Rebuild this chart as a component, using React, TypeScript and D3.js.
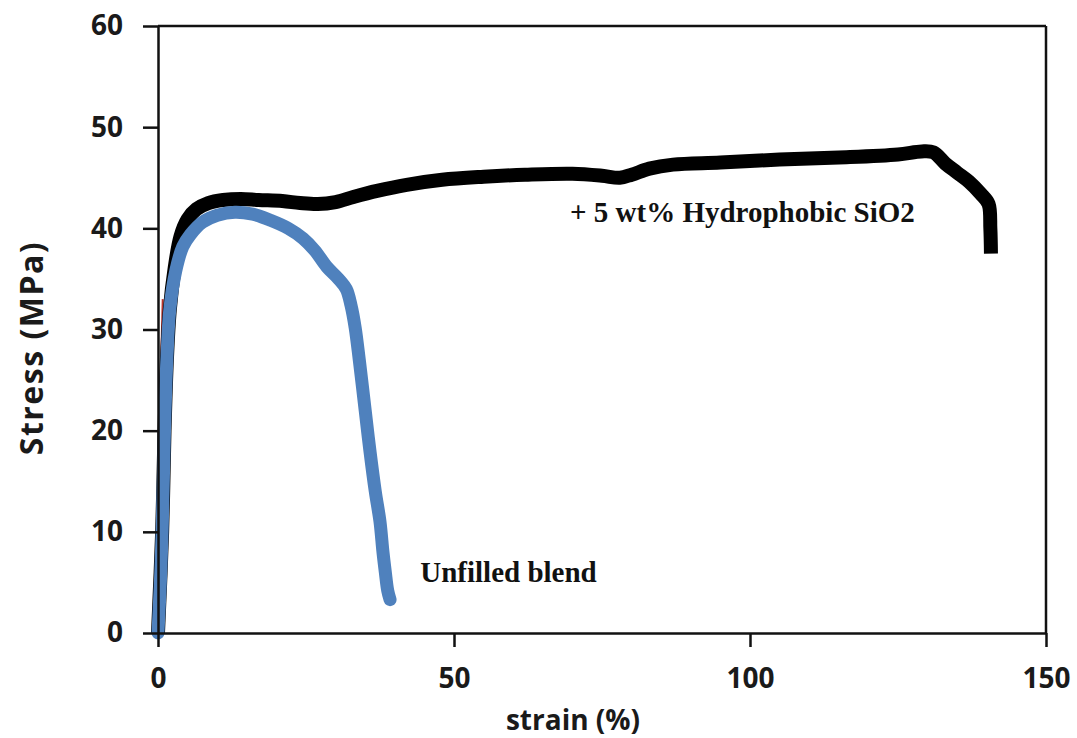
import { useEffect, useRef } from "react";
import * as d3 from "d3";

// tensile curves (strain %, stress MPa)
const strainSiO2 = [0, 0.7, 1.1, 1.5, 2.0, 2.8, 3.8, 5.0, 6.5, 8.5, 11, 14, 17, 21, 24, 27, 30, 33, 37, 42, 48, 55, 62, 70, 75, 78, 80, 83, 87, 95, 105, 115, 125, 129, 131, 133, 135, 137, 139, 140.3, 140.6, 140.7];
const stressSiO2 = [0, 10, 20, 27, 32, 36, 39.2, 40.9, 41.9, 42.5, 42.8, 42.9, 42.8, 42.7, 42.5, 42.4, 42.6, 43.1, 43.7, 44.3, 44.8, 45.1, 45.3, 45.4, 45.2, 45.0, 45.3, 45.9, 46.3, 46.5, 46.8, 47.0, 47.3, 47.6, 47.5, 46.4, 45.5, 44.6, 43.4, 42.4, 40, 37.5];

const strainBlend = [0, 0.4, 0.7, 1.1, 1.5, 2.0, 3.0, 4.2, 5.5, 7.5, 10, 13, 16, 19, 22, 24.5, 26.5, 28.5, 30.5, 31.8, 32.6, 33.3, 34, 35, 35.8, 36.7, 37.5, 38, 38.4, 38.8, 39.2];
const stressBlend = [0, 5, 10, 20, 27, 32, 35.8, 38.2, 39.4, 40.6, 41.3, 41.6, 41.4, 40.8, 40.0, 39.0, 37.8, 36.2, 35.0, 34.0, 32.4, 30.2, 27, 22, 18, 14, 11, 8, 6, 4.2, 3.3];

// faint red trace hugging the y axis in the original
const strainRed = [0, 0.15, 0.35, 0.8];
const stressRed = [0, 10, 22, 33];

const xTicks = [0, 50, 100, 150];
const yTicks = [0, 10, 20, 30, 40, 50, 60];

const labels = [
    { text: "+ 5 wt% Hydrophobic SiO2", strain: 69.6, stress: 40.6 },
    { text: "Unfilled blend", strain: 44.3, stress: 5.0 },
];

const W = 1077;
const H = 738;
const left = 158, right = 1046, top = 26, bottom = 633;

export default function App() {
    const xAxisRef = useRef<SVGGElement>(null);
    const yAxisRef = useRef<SVGGElement>(null);

    const x = d3.scaleLinear().domain([0, 150]).range([left, right]);
    const y = d3.scaleLinear().domain([0, 60]).range([bottom, top]);

    const line = d3
        .line<[number, number]>()
        .x((d) => x(d[0]))
        .y((d) => y(d[1]))
        .curve(d3.curveCatmullRom.alpha(0.5));

    const sio2 = line(strainSiO2.map((s, i) => [s, stressSiO2[i]]));
    const blend = line(strainBlend.map((s, i) => [s, stressBlend[i]]));
    const red = line(strainRed.map((s, i) => [s, stressRed[i]]));

    useEffect(() => {
        const xAxis = d3.axisBottom(x).tickValues(xTicks).tickSize(14).tickSizeOuter(0).tickPadding(21);
        const yAxis = d3.axisLeft(y).tickValues(yTicks).tickSize(15).tickSizeOuter(0).tickPadding(20);

        const gx = d3.select(xAxisRef.current).call(xAxis);
        const gy = d3.select(yAxisRef.current).call(yAxis);

        [gx, gy].forEach((g) => {
            g.attr("font-family", "'Open Sans', sans-serif").attr("font-size", 28).attr("font-weight", "bold");
            g.selectAll("path.domain").attr("stroke", "#111").attr("stroke-width", 2.5);
            g.selectAll(".tick line").attr("stroke", "#111").attr("stroke-width", 2.5);
            g.selectAll(".tick text").attr("fill", "#1a1a1a");
        });
    }, []);

    return (
        <svg width={W} height={H} style={{ position: "absolute", left: 0, top: 0, background: "#fff" }}>
            {/* frame: top and right */}
            <line x1={left} x2={right} y1={top} y2={top} stroke="#111" strokeWidth={2.5} />
            <line x1={right} x2={right} y1={top} y2={bottom} stroke="#111" strokeWidth={2.5} />

            <path d={red ?? ""} fill="none" stroke="#b8342c" strokeWidth={2} />
            <path d={sio2 ?? ""} fill="none" stroke="#000" strokeWidth={14} strokeLinejoin="round" strokeLinecap="butt" />
            <path d={blend ?? ""} fill="none" stroke="#4f81bd" strokeWidth={13} strokeLinejoin="round" strokeLinecap="round" />

            <g ref={xAxisRef} transform={`translate(0,${bottom})`} />
            <g ref={yAxisRef} transform={`translate(${left},0)`} />

            {labels.map((l) => (
                <text
                    key={l.text}
                    x={x(l.strain)}
                    y={y(l.stress)}
                    fontFamily="'Liberation Serif', 'Times New Roman', serif"
                    fontWeight="bold"
                    fontSize={29}
                    fill="#111"
                >
                    {l.text}
                </text>
            ))}

            <text
                x={573}
                y={730}
                textAnchor="middle"
                fontFamily="'Open Sans', sans-serif"
                fontWeight="bold"
                fontSize={28}
                fill="#1a1a1a"
            >
                strain (%)
            </text>
            <text
                transform={`translate(43,${348}) rotate(-90)`}
                textAnchor="middle"
                fontFamily="'Open Sans', sans-serif"
                fontWeight="bold"
                fontSize={32}
                letterSpacing={1.5}
                fill="#1a1a1a"
            >
                Stress (MPa)
            </text>
        </svg>
    );
}
